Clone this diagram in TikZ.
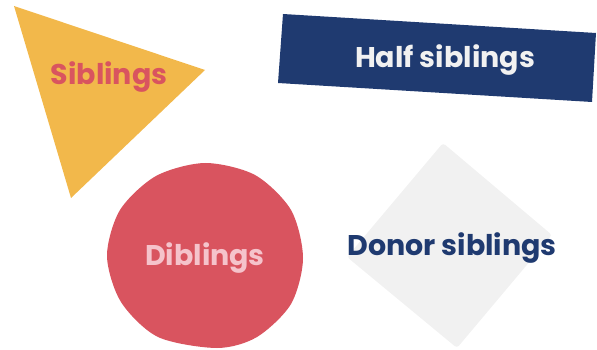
\documentclass[tikz,border=0pt]{standalone}
\usepackage{fontspec}
\setmainfont{Poppins}
\definecolor{sunny}{HTML}{F2B84B}
\definecolor{berry}{HTML}{D9545F}
\definecolor{navy}{HTML}{1F3A70}
\definecolor{mist}{HTML}{F1F1F1}
\definecolor{blush}{HTML}{F5C3CB}
\tikzset{
    word/.style={font=\fontsize{28.5}{32}\selectfont\bfseries, inner sep=0pt},
}
\begin{document}
\begin{tikzpicture}[x=1pt, y=-1pt]

    \useasboundingbox (0,0) rectangle (597,350);

    % shapes
    \fill[sunny] (14,6) -- (205,70) -- (71,198) -- cycle;
    \fill[navy] (283,14) -- (596,33) -- (592,102) -- (278,83) -- cycle;
    \fill[berry] plot[smooth cycle] coordinates {(303,258) (291,304) (257,337) (217,348) (158,337) (121,302) (107,256) (120,210) (156,176) (205,163) (255,175) (291,210)};
    \fill[mist, rounded corners=3pt] (443,143) -- (552,235) -- (457,348) -- (347,257) -- cycle;

    % labels
    \node[word, text=berry] (sib) at (109,77) {Siblings};
    \node[word, text=mist] (half) at (445,60) {Half siblings};
    \node[word, text=blush] (dib) at (205,258) {Diblings};
    \node[word, text=navy] (donor) at (452,248) {Donor siblings};

\end{tikzpicture}
\end{document}
